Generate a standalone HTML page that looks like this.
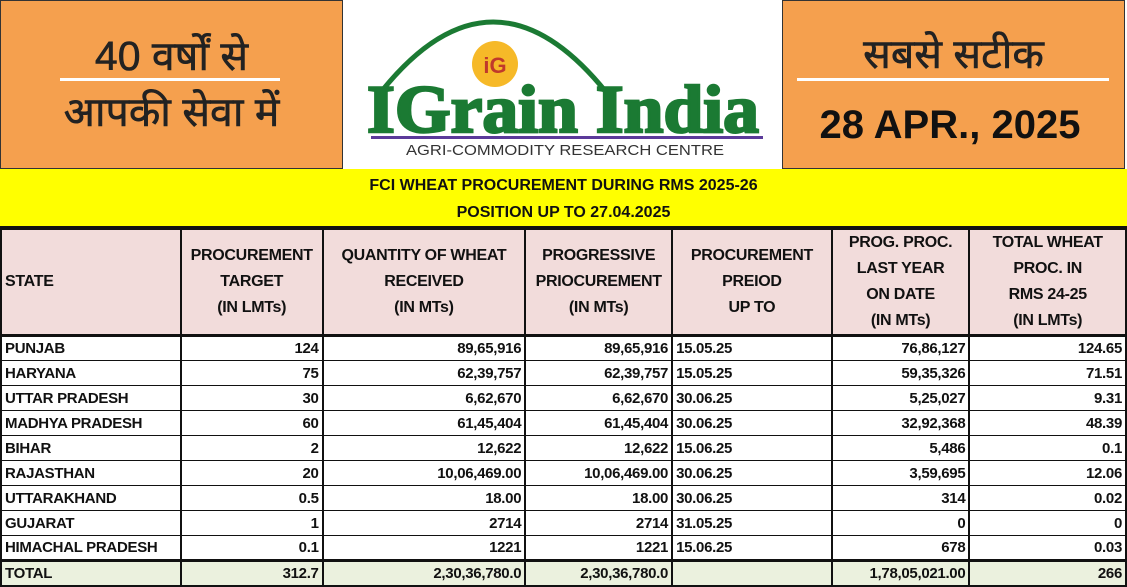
<!DOCTYPE html>
<html><head><meta charset="utf-8"><style>
*{margin:0;padding:0;box-sizing:border-box}
body{width:1127px;height:586px;background:#fff;position:relative;overflow:hidden;font-family:"Liberation Sans",sans-serif}
.ab{position:absolute}
.or{background:#f5a04e;border:1px solid #333}
.hin{font-family:"Liberation Sans","Noto Sans Devanagari","Lohit Devanagari",sans-serif;color:#222;text-align:center;font-size:41px;line-height:48px;-webkit-text-stroke:0.6px #222}
.wl{height:3px;background:#fff}
table{position:absolute;left:0;top:228px;border-collapse:collapse;width:1127px;font-weight:bold;font-size:15px;color:#111;letter-spacing:-0.3px}
td{border:2px solid #111;border-top:1px solid #111;border-bottom:1px solid #111;height:25px;padding:0 3px;text-align:right;white-space:nowrap}
td:first-child{text-align:left}
tr.h td{background:#f2dcdb;height:105px;text-align:center;line-height:26px;font-size:16px;border-top:2px solid #111;border-bottom:3px solid #111}
tr.h td:first-child{text-align:left}
td.d{text-align:left}
tr.t td{background:#ebf1de;border-top:3px solid #111;border-bottom:2px solid #111}
</style></head><body>
<div class="ab or" style="left:0;top:0;width:343px;height:169px"></div>
<div class="ab hin" style="left:0;top:32px;width:343px">40 वर्षों से</div>
<div class="ab wl" style="left:60px;top:78px;width:220px"></div>
<div class="ab hin" style="left:0;top:88px;width:343px">आपकी सेवा में</div>

<div class="ab" style="left:343px;top:0;width:439px;height:168px;background:#fff"></div>
<svg class="ab" style="left:343px;top:0" width="439" height="168">
<path d="M38 92 Q 150 -48 263 92" fill="none" stroke="#1b7a33" stroke-width="5"/>
<circle cx="152" cy="64" r="23" fill="#f6b928"/>
<text x="152" y="73" font-family="Liberation Sans" font-weight="bold" font-size="22" fill="#c0392b" text-anchor="middle">iG</text>
<text x="220" y="132" font-family="Liberation Serif" font-weight="bold" font-size="68" fill="#1b7a33" stroke="#1b7a33" stroke-width="2.5" text-anchor="middle" textLength="392" lengthAdjust="spacingAndGlyphs">IGrain India</text>
<rect x="28" y="136" width="392" height="3" fill="#5b3a9a"/>
<text x="222" y="155" font-family="Liberation Sans" font-size="15" fill="#333" text-anchor="middle" textLength="318" lengthAdjust="spacingAndGlyphs">AGRI-COMMODITY RESEARCH CENTRE</text>
</svg>

<div class="ab or" style="left:782px;top:0;width:343px;height:169px"></div>
<div class="ab hin" style="left:782px;top:30px;width:343px">सबसे सटीक</div>
<div class="ab wl" style="left:797px;top:78px;width:312px"></div>
<div class="ab" style="left:790px;top:103px;width:320px;text-align:center;font-weight:bold;font-size:40px;color:#111">28 APR., 2025</div>

<div class="ab" style="left:0;top:169px;width:1127px;height:59px;background:#ffff00;border-bottom:2px solid #111;text-align:center;font-weight:bold;font-size:16px;line-height:27px;padding-top:3px;color:#111">FCI WHEAT PROCUREMENT DURING RMS 2025-26<br>POSITION UP TO 27.04.2025</div>

<table>
<colgroup><col style="width:180px"><col style="width:142px"><col style="width:203px"><col style="width:147px"><col style="width:160px"><col style="width:138px"><col style="width:157px"></colgroup>
<tr class="h"><td>STATE</td><td>PROCUREMENT<br>TARGET<br>(IN LMTs)</td><td>QUANTITY OF WHEAT<br>RECEIVED<br>(IN MTs)</td><td>PROGRESSIVE<br>PRIOCUREMENT<br>(IN MTs)</td><td>PROCUREMENT<br>PREIOD<br>UP TO</td><td>PROG. PROC.<br>LAST YEAR<br>ON DATE<br>(IN MTs)</td><td>TOTAL WHEAT<br>PROC. IN<br>RMS 24-25<br>(IN LMTs)</td></tr>
<tr><td>PUNJAB</td><td>124</td><td>89,65,916</td><td>89,65,916</td><td class="d">15.05.25</td><td>76,86,127</td><td>124.65</td></tr>
<tr><td>HARYANA</td><td>75</td><td>62,39,757</td><td>62,39,757</td><td class="d">15.05.25</td><td>59,35,326</td><td>71.51</td></tr>
<tr><td>UTTAR PRADESH</td><td>30</td><td>6,62,670</td><td>6,62,670</td><td class="d">30.06.25</td><td>5,25,027</td><td>9.31</td></tr>
<tr><td>MADHYA PRADESH</td><td>60</td><td>61,45,404</td><td>61,45,404</td><td class="d">30.06.25</td><td>32,92,368</td><td>48.39</td></tr>
<tr><td>BIHAR</td><td>2</td><td>12,622</td><td>12,622</td><td class="d">15.06.25</td><td>5,486</td><td>0.1</td></tr>
<tr><td>RAJASTHAN</td><td>20</td><td>10,06,469.00</td><td>10,06,469.00</td><td class="d">30.06.25</td><td>3,59,695</td><td>12.06</td></tr>
<tr><td>UTTARAKHAND</td><td>0.5</td><td>18.00</td><td>18.00</td><td class="d">30.06.25</td><td>314</td><td>0.02</td></tr>
<tr><td>GUJARAT</td><td>1</td><td>2714</td><td>2714</td><td class="d">31.05.25</td><td>0</td><td>0</td></tr>
<tr><td>HIMACHAL PRADESH</td><td>0.1</td><td>1221</td><td>1221</td><td class="d">15.06.25</td><td>678</td><td>0.03</td></tr>
<tr class="t"><td>TOTAL</td><td>312.7</td><td>2,30,36,780.0</td><td>2,30,36,780.0</td><td></td><td>1,78,05,021.00</td><td>266</td></tr>
</table>
</body></html>
